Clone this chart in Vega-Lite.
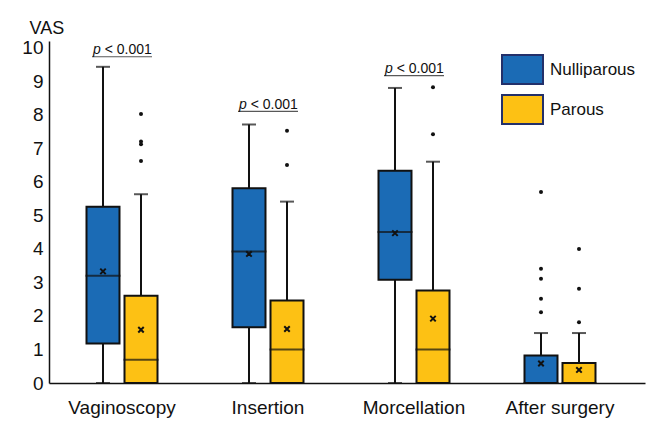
{
  "$schema": "https://vega.github.io/schema/vega-lite/v6.json",
  "width": 596,
  "height": 342,
  "autosize": "none",
  "padding": {"left": 49, "top": 41, "right": 12, "bottom": 45},
  "background": "white",
  "config": {
    "view": {"stroke": null},
    "font": "Liberation Sans",
    "axis": {"labelFont": "Liberation Sans", "titleFont": "Liberation Sans", "labelColor": "#111", "titleColor": "#111"},
    "axisY": {"labelOverlap": false, "labelBound": false, "labelFlush": false, "tickCount": 11},
    "legend": {"labelFont": "Liberation Sans"}
  },
  "datasets": {
    "stats": [
      {"cat": "Vaginoscopy", "grp": "Nulliparous", "lo": 0, "q1": 1.18, "med": 3.2, "q3": 5.26, "hi": 9.43, "mean": 3.33},
      {"cat": "Vaginoscopy", "grp": "Parous", "lo": 0, "q1": 0, "med": 0.69, "q3": 2.6, "hi": 5.63, "mean": 1.59},
      {"cat": "Insertion", "grp": "Nulliparous", "lo": 0, "q1": 1.66, "med": 3.92, "q3": 5.81, "hi": 7.71, "mean": 3.85},
      {"cat": "Insertion", "grp": "Parous", "lo": 0, "q1": 0, "med": 1.0, "q3": 2.46, "hi": 5.41, "mean": 1.61},
      {"cat": "Morcellation", "grp": "Nulliparous", "lo": 0, "q1": 3.08, "med": 4.5, "q3": 6.33, "hi": 8.8, "mean": 4.47},
      {"cat": "Morcellation", "grp": "Parous", "lo": 0, "q1": 0, "med": 1.0, "q3": 2.76, "hi": 6.6, "mean": 1.92},
      {"cat": "After surgery", "grp": "Nulliparous", "lo": 0, "q1": 0, "med": 0, "q3": 0.82, "hi": 1.49, "mean": 0.58},
      {"cat": "After surgery", "grp": "Parous", "lo": 0, "q1": 0, "med": 0, "q3": 0.6, "hi": 1.49, "mean": 0.39}
    ],
    "outliers": [
      {"cat": "Vaginoscopy", "grp": "Parous", "v": 8.02},
      {"cat": "Vaginoscopy", "grp": "Parous", "v": 7.2},
      {"cat": "Vaginoscopy", "grp": "Parous", "v": 7.12},
      {"cat": "Vaginoscopy", "grp": "Parous", "v": 6.62},
      {"cat": "Insertion", "grp": "Parous", "v": 7.52},
      {"cat": "Insertion", "grp": "Parous", "v": 6.5},
      {"cat": "Morcellation", "grp": "Parous", "v": 8.82},
      {"cat": "Morcellation", "grp": "Parous", "v": 7.42},
      {"cat": "After surgery", "grp": "Nulliparous", "v": 5.7},
      {"cat": "After surgery", "grp": "Nulliparous", "v": 3.41},
      {"cat": "After surgery", "grp": "Nulliparous", "v": 3.11},
      {"cat": "After surgery", "grp": "Nulliparous", "v": 2.51},
      {"cat": "After surgery", "grp": "Nulliparous", "v": 2.11},
      {"cat": "After surgery", "grp": "Parous", "v": 4.0},
      {"cat": "After surgery", "grp": "Parous", "v": 2.81},
      {"cat": "After surgery", "grp": "Parous", "v": 1.81}
    ],
    "pvals": [
      {"cat": "Vaginoscopy", "y": 9.8, "yu": 9.73, "p": "p", "rest": "< 0.001"},
      {"cat": "Insertion", "y": 8.17, "yu": 8.1, "p": "p", "rest": "< 0.001"},
      {"cat": "Morcellation", "y": 9.24, "yu": 9.17, "p": "p", "rest": "< 0.001"}
    ]
  },
  "encoding": {
    "x": {
      "field": "cat", "type": "nominal",
      "sort": ["Vaginoscopy", "Insertion", "Morcellation", "After surgery"],
      "scale": {"paddingInner": 0, "paddingOuter": 0.0411, "align": 0},
      "axis": {"title": null, "ticks": false, "labelAngle": 0, "labelFontSize": 19, "labelPadding": 15, "domainColor": "#111", "domainWidth": 1.5}
    }
  },
  "layer": [
    {
      "data": {"name": "stats"},
      "mark": {"type": "rule", "color": "#111", "strokeWidth": 2},
      "encoding": {
        "xOffset": {"field": "grp", "type": "nominal", "sort": ["Nulliparous", "Parous"], "scale": {"paddingOuter": 0.921, "paddingInner": 0}},
        "y": {"field": "lo", "type": "quantitative",
          "scale": {"domain": [0, 10.2], "nice": false, "zero": true},
          "axis": {"values": [0,1,2,3,4,5,6,7,8,9,10], "tickCount": 11, "labelOverlap": false, "ticks": false, "grid": false, "labelFontSize": 19, "labelPadding": 6, "domainColor": "#111", "domainWidth": 1.5,
            "title": "VAS", "titleAngle": 0, "titleFontSize": 18, "titleFontWeight": "normal", "titleAlign": "left", "titleBaseline": "alphabetic", "titleX": -20, "titleY": -8}},
        "y2": {"field": "hi"}
      }
    },
    {
      "data": {"name": "stats"},
      "mark": {"type": "tick", "color": "#111", "size": 14, "thickness": 2, "orient": "horizontal"},
      "encoding": {
        "xOffset": {"field": "grp", "type": "nominal", "sort": ["Nulliparous", "Parous"]},
        "y": {"field": "hi", "type": "quantitative"}
      }
    },
    {
      "data": {"name": "stats"},
      "mark": {"type": "tick", "color": "#111", "size": 14, "thickness": 2, "orient": "horizontal"},
      "encoding": {
        "xOffset": {"field": "grp", "type": "nominal", "sort": ["Nulliparous", "Parous"]},
        "y": {"field": "lo", "type": "quantitative"}
      }
    },
    {
      "data": {"name": "stats"},
      "mark": {"type": "bar", "stroke": "#111", "strokeWidth": 2, "size": 33},
      "encoding": {
        "xOffset": {"field": "grp", "type": "nominal", "sort": ["Nulliparous", "Parous"]},
        "y": {"field": "q1", "type": "quantitative"},
        "y2": {"field": "q3"},
        "fill": {"field": "grp", "type": "nominal",
          "scale": {"domain": ["Nulliparous", "Parous"], "range": ["#1B6BB5", "#FDC114"]},
          "legend": {"title": null, "orient": "none", "legendX": 452, "legendY": 7, "padding": 0,
            "symbolType": "M-1,-0.707L1,-0.707L1,0.707L-1,0.707Z", "symbolSize": 1681,
            "symbolStrokeColor": "#23306a", "symbolStrokeWidth": 2, "symbolOpacity": 1,
            "labelFontSize": 17, "labelColor": "#111", "labelOffset": 6, "rowPadding": -3,
            "encode": {"symbols": {"update": {"stroke": {"value": "#23306a"}, "strokeWidth": {"value": 2}}}}}
        }
      }
    },
    {
      "data": {"name": "stats"},
      "mark": {"type": "tick", "color": "#111", "size": 35, "thickness": 2, "orient": "horizontal"},
      "encoding": {
        "xOffset": {"field": "grp", "type": "nominal", "sort": ["Nulliparous", "Parous"]},
        "y": {"field": "med", "type": "quantitative"}
      }
    },
    {
      "data": {"name": "stats"},
      "mark": {"type": "point", "shape": "M-1,-1L1,1M1,-1L-1,1", "size": 30, "stroke": "#111", "strokeWidth": 2, "filled": false, "opacity": 1},
      "encoding": {
        "xOffset": {"field": "grp", "type": "nominal", "sort": ["Nulliparous", "Parous"]},
        "y": {"field": "mean", "type": "quantitative"}
      }
    },
    {
      "data": {"name": "outliers"},
      "mark": {"type": "circle", "size": 16, "color": "#111", "opacity": 1},
      "encoding": {
        "xOffset": {"field": "grp", "type": "nominal", "sort": ["Nulliparous", "Parous"]},
        "y": {"field": "v", "type": "quantitative"}
      }
    },
    {
      "data": {"name": "pvals"},
      "mark": {"type": "text", "fontSize": 14, "fontStyle": "italic", "align": "left", "baseline": "alphabetic", "dx": -29, "color": "#111"},
      "encoding": {
        "y": {"field": "y", "type": "quantitative"},
        "text": {"field": "p"}
      }
    },
    {
      "data": {"name": "pvals"},
      "mark": {"type": "text", "fontSize": 14, "align": "left", "baseline": "alphabetic", "dx": -17.3, "color": "#111"},
      "encoding": {
        "y": {"field": "y", "type": "quantitative"},
        "text": {"field": "rest"}
      }
    },
    {
      "data": {"name": "pvals"},
      "mark": {"type": "tick", "color": "#111", "size": 60, "thickness": 1.2, "orient": "horizontal"},
      "encoding": {
        "y": {"field": "yu", "type": "quantitative"}
      }
    }
  ]
}
